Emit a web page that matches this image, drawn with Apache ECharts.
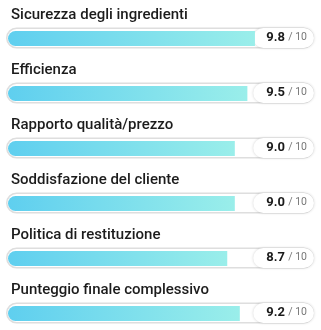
<!DOCTYPE html>
<html>
<head>
<meta charset="utf-8">
<script src="https://cdn.jsdelivr.net/npm/echarts@6/dist/echarts.min.js"></script>
<style>
  html, body { margin: 0; padding: 0; background: #fff; }
  #chart { width: 321px; height: 330px; }
</style>
</head>
<body>
<div id="chart"></div>
<script>
// Chart data
const categories = [
    'Sicurezza degli ingredienti',
    'Efficienza',
    'Rapporto qualità/prezzo',
    'Soddisfazione del cliente',
    'Politica di restituzione',
    'Punteggio finale complessivo'
];
const scores = [9.8, 9.5, 9.0, 9.0, 8.7, 9.2];
const maxScore = 10;

const rowStep = 55;
const fontFamily = 'Roboto, "Noto Sans", sans-serif';

var chart = echarts.init(document.getElementById('chart'));

const grids = [], xAxes = [], yAxes = [], series = [], titles = [];

categories.forEach((name, i) => {
    const y0 = i * rowStep;

    titles.push({
        text: name,
        left: 6,
        top: y0 + 3,
        textStyle: { fontFamily: fontFamily, fontSize: 15, fontWeight: 500, color: '#1c1c1c' }
    });

    // track grid (full width pill)
    grids.push({ left: 6, right: 7, top: y0 + 27, height: 22 });
    // value grid (scale 0..10)
    grids.push({ left: 8, right: 61, top: y0 + 31, height: 15 });

    const gTrack = i * 2, gVal = i * 2 + 1;
    xAxes.push({ gridIndex: gTrack, type: 'value', min: 0, max: 1, show: false });
    xAxes.push({ gridIndex: gVal, type: 'value', min: 0, max: maxScore, show: false });
    yAxes.push({ gridIndex: gTrack, type: 'category', data: [name], show: false });
    yAxes.push({ gridIndex: gVal, type: 'category', data: [name], show: false });

    series.push({
        type: 'bar',
        xAxisIndex: gTrack,
        yAxisIndex: gTrack,
        barWidth: 21,
        silent: true,
        z: 1,
        data: [1],
        itemStyle: {
            color: '#fff',
            borderColor: '#dedede',
            borderWidth: 1.5,
            borderRadius: 11
        },
        label: {
            show: true,
            position: 'insideRight',
            distance: 0,
            z: 5,
            formatter: () => '{v|' + scores[i].toFixed(1) + '} {d|/ 10}',
            backgroundColor: '#fff',
            borderRadius: 10,
            padding: [3, 7, 3, 13],
            height: 14,
            shadowBlur: 3,
            shadowColor: 'rgba(0,0,0,0.18)',
            rich: {
                v: { fontFamily: fontFamily, fontSize: 13, fontWeight: 'bold', color: '#1a1a1a' },
                d: { fontFamily: fontFamily, fontSize: 10.5, color: '#777' }
            }
        }
    });

    series.push({
        type: 'bar',
        xAxisIndex: gVal,
        yAxisIndex: gVal,
        barWidth: 15,
        silent: true,
        z: 2,
        data: [scores[i]],
        itemStyle: {
            borderRadius: [8, 0, 0, 8],
            color: new echarts.graphic.LinearGradient(0, 0, 1, 0, [
                { offset: 0, color: '#5fcfef' },
                { offset: 1, color: '#9aeeea' }
            ])
        }
    });
});

var option = {
    backgroundColor: '#fff',
    animation: false,
    title: titles,
    grid: grids,
    xAxis: xAxes,
    yAxis: yAxes,
    series: series
};
option && chart.setOption(option);
</script>
</body>
</html>
